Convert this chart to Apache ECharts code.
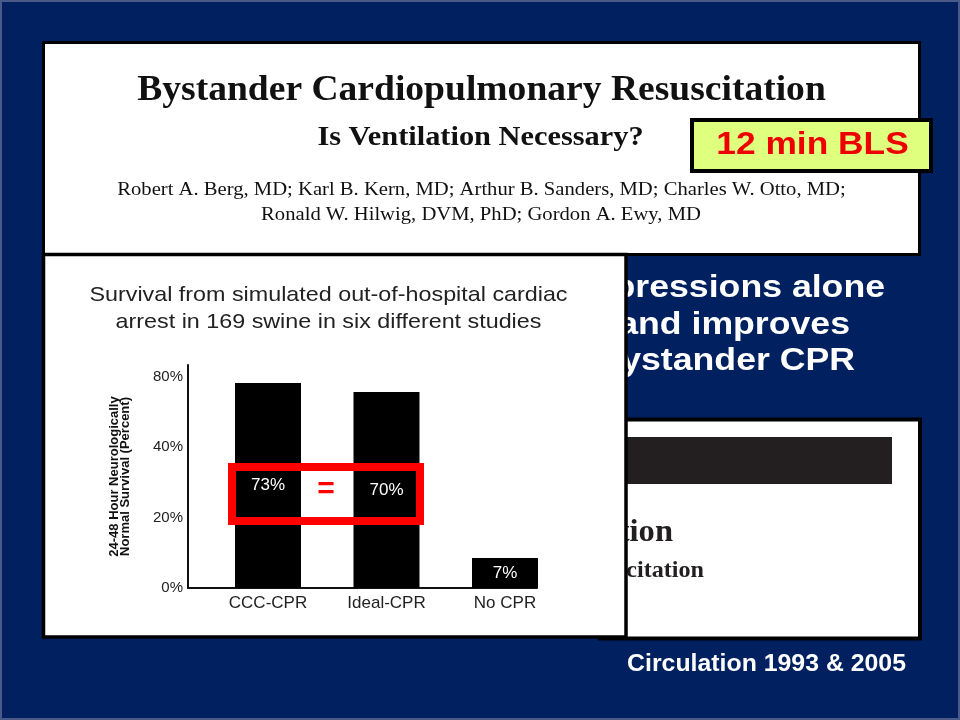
<!DOCTYPE html>
<html><head><meta charset="utf-8">
<script src="https://cdn.jsdelivr.net/npm/echarts@6/dist/echarts.min.js"></script>
<style>html,body{margin:0;padding:0;background:#002060}#c{width:960px;height:720px}</style>
</head><body><div id="c"></div>
<script>
// ---- data ----
const categories = ['CCC-CPR', 'Ideal-CPR', 'No CPR'];
const barHeights = [58.3, 55.7, 8.5];
const barLabels = ['73%', '70%', '7%'];
const yTickValues = [0, 20, 40, 60];
const yTickLabels = ['0%', '20%', '40%', '80%'];
const chartTitle = ['Survival from simulated out-of-hospital cardiac', 'arrest in 169 swine in six different studies'];
const yAxisName = ['24-48 Hour Neurologically', 'Normal Survival (Percent)'];
const paperTitle = 'Bystander Cardiopulmonary Resuscitation';
const paperSubtitle = 'Is Ventilation Necessary?';
const authors = ['Robert A. Berg, MD; Karl B. Kern, MD; Arthur B. Sanders, MD; Charles W. Otto, MD;', 'Ronald W. Hilwig, DVM, PhD; Gordon A. Ewy, MD'];
const badge = '12 min BLS';
const sideText = ['compressions alone', 'survival and improves', 'bystander CPR'];
const paper2Text = ['Cardiocerebral Resuscitation', 'Continuous Chest Compression Resuscitation'];
const citation = 'Circulation 1993 & 2005';

const chart = echarts.init(document.getElementById('c'));
const serif = '"Liberation Serif", "Times New Roman", serif';
const sans = '"Liberation Sans", Arial, sans-serif';

function txt(x, y, text, font, fill, align, sx, z) {
  return { type: 'text', x: x, y: y, scaleX: sx || 1, z: z,
    style: { text: text, font: font, fill: fill, align: align || 'center', verticalAlign: 'middle' } };
}

const graphics = [
  { type: 'rect', z: -20, shape: { x: 1, y: 1, width: 958, height: 718 }, style: { fill: '#002060', stroke: '#4a5a88', lineWidth: 2 } },
  // top paper panel
  { type: 'rect', z: -15, shape: { x: 43.5, y: 42.5, width: 876, height: 212 }, style: { fill: '#fff', stroke: '#000', lineWidth: 3 } },
  txt(481.5, 91, paperTitle, 'bold 35px ' + serif, '#111', 'center', 1.073, -14),
  txt(480.5, 138, paperSubtitle, 'bold 27px ' + serif, '#111', 'center', 1.125, -14),
  txt(481.5, 190, authors[0], '19px ' + serif, '#111', 'center', 1.086, -14),
  txt(481, 215, authors[1], '19px ' + serif, '#111', 'center', 1.086, -14),
  // badge
  { type: 'rect', z: -13, shape: { x: 692, y: 120, width: 239, height: 51 }, style: { fill: '#dfff7f', stroke: '#000', lineWidth: 4 } },
  txt(812.5, 145, badge, 'bold 31px ' + sans, '#ee0000', 'center', 1.14, -12),
  // side text (partly behind chart panel)
  txt(885, 288, sideText[0], 'bold 31px ' + sans, '#fff', 'right', 1.15, -12),
  txt(850, 325, sideText[1], 'bold 31px ' + sans, '#fff', 'right', 1.15, -12),
  txt(855, 361, sideText[2], 'bold 31px ' + sans, '#fff', 'right', 1.15, -12),
  // second paper panel
  { type: 'rect', z: -11, shape: { x: 600, y: 419.5, width: 320, height: 219 }, style: { fill: '#fff', stroke: '#000', lineWidth: 4 } },
  { type: 'rect', z: -10, shape: { x: 600, y: 437, width: 292, height: 47 }, style: { fill: '#231f20' } },
  txt(673, 533, paper2Text[0], 'bold 31px ' + serif, '#231f20', 'right', 1.05, -10),
  txt(704, 571, paper2Text[1], 'bold 23px ' + serif, '#231f20', 'right', 1.05, -10),
  txt(906, 665, citation, 'bold 23px ' + sans, '#fff', 'right', 1.08, -10),
  // chart panel
  { type: 'rect', z: -5, shape: { x: 43.5, y: 254.5, width: 582.5, height: 382.5 }, style: { fill: '#fff', stroke: '#000', lineWidth: 3.5 } },
  txt(328.5, 295, chartTitle[0], '21px ' + sans, '#222', 'center', 1.11, -4),
  txt(328.5, 322, chartTitle[1], '21px ' + sans, '#222', 'center', 1.11, -4),
  // emphasis box
  { type: 'rect', z: 10, shape: { x: 232, y: 467, width: 188, height: 54 }, style: { fill: 'none', stroke: '#ff0000', lineWidth: 8 } },
  txt(326, 490, '=', 'bold 30px ' + sans, '#ff0000', 'center', 1.0, 10)
];

chart.setOption({
  backgroundColor: '#002060',
  animation: false,
  graphic: graphics,
  grid: { left: 188, right: 423, top: 365, bottom: 132, containLabel: false },
  xAxis: {
    type: 'value', min: -0.675, max: 2.27,
    splitLine: { show: false },
    axisLine: { show: true, onZero: false, lineStyle: { color: '#111', width: 2 } },
    axisTick: { show: false },
    axisLabel: { customValues: [0, 1, 2], formatter: v => categories[Math.round(v)], color: '#222', fontSize: 17, fontFamily: sans, margin: 7 }
  },
  yAxis: {
    type: 'value', min: 0, max: 63.4,
    splitLine: { show: false },
    axisLine: { show: true, onZero: false, lineStyle: { color: '#111', width: 2 } },
    axisTick: { show: false },
    axisLabel: { customValues: yTickValues, formatter: v => yTickLabels[yTickValues.indexOf(v)], color: '#222', fontSize: 15, fontFamily: sans, margin: 5 },
    name: yAxisName.join('\n'), nameLocation: 'middle', nameRotate: 90, nameGap: 57,
    nameTextStyle: { fontWeight: 'bold', fontSize: 13, fontFamily: sans, color: '#111', lineHeight: 11 }
  },
  series: [{
    type: 'bar',
    data: categories.map((c, i) => [i, barHeights[i]]),
    barWidth: 66,
    itemStyle: { color: '#000' },
    label: { show: true, position: 'inside', formatter: p => barLabels[p.dataIndex], color: '#fff', fontSize: 17, fontFamily: sans }
  }]
});
</script></body></html>
